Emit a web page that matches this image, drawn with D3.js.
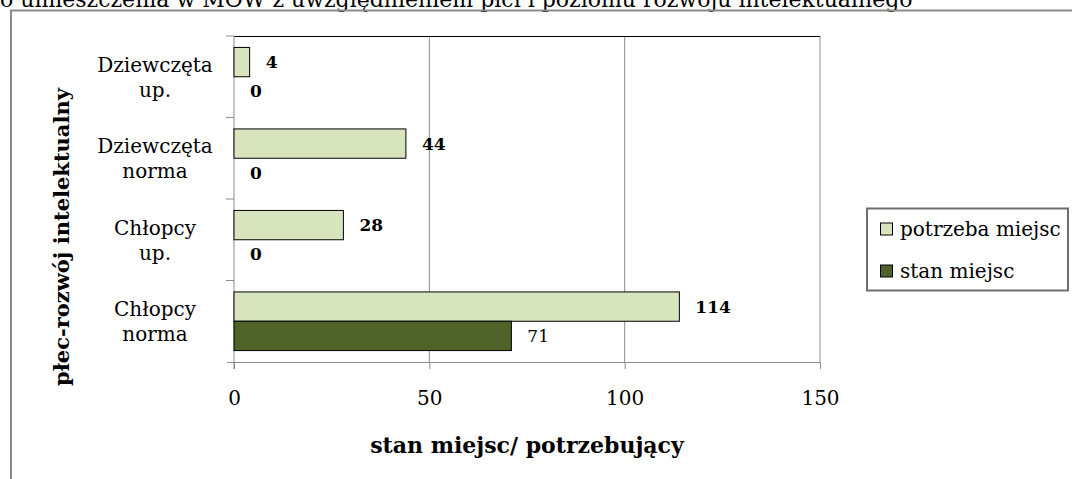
<!DOCTYPE html>
<html lang="pl">
<head>
<meta charset="UTF-8">
<title>stan miejsc / potrzebujący</title>
<script src="https://d3js.org/d3.v7.min.js"></script>
<style>
  body { margin: 0; background: #fff; }
  svg { display: block; font-family: "DejaVu Serif", serif; }
</style>
</head>
<body>
<div id="chart"></div>
<script>
  // data
  const categories = ["Dziewczęta up.", "Dziewczęta norma", "Chłopcy up.", "Chłopcy norma"];
  const categoryLines = [["Dziewczęta", "up."], ["Dziewczęta", "norma"], ["Chłopcy", "up."], ["Chłopcy", "norma"]];
  const seriesNames = ["potrzeba miejsc", "stan miejsc"];
  const potrzeba = [4, 44, 28, 114];
  const stan = [0, 0, 0, 71];
  const xTicks = [0, 50, 100, 150];
  const colors = ["#d7e4bd", "#4f6228"];

  const width = 1072, height = 479;
  const svg = d3.select("#chart").append("svg")
      .attr("width", width)
      .attr("height", height);

  // caption, cut at the top of the page
  svg.append("text")
      .attr("x", 0)
      .attr("y", 7)
      .style("font-size", "22px")
      .text("o umieszczenia w MOW z uwzględnieniem płci i poziomu rozwoju intelektualnego");

  // outer chart border
  svg.append("path")
      .attr("d", `M11,${height} V10.5 H${width}`)
      .attr("fill", "none")
      .attr("stroke", "#8c8c8c")
      .attr("stroke-width", 2);

  const plotL = 234, plotR = 820, plotT = 36, plotB = 362;

  const x = d3.scaleLinear().domain([0, 150]).range([plotL, plotR]);
  const y = d3.scaleBand().domain(categories).range([plotT, plotB]);
  const inner = d3.scaleBand().domain(seriesNames).range([0, y.bandwidth()]).paddingOuter(0.39);

  // gridlines
  svg.append("g")
      .selectAll("line")
      .data(xTicks.slice(1))
      .join("line")
      .attr("x1", d => x(d)).attr("x2", d => x(d))
      .attr("y1", plotT).attr("y2", plotB)
      .attr("stroke", "#8c8c8c");

  // top border of the plot area
  svg.append("line")
      .attr("x1", plotL).attr("x2", plotR)
      .attr("y1", plotT + 0.5).attr("y2", plotT + 0.5)
      .attr("stroke", "#000");

  // x axis
  const xAxis = svg.append("g")
      .attr("transform", `translate(0,${plotB})`)
      .call(d3.axisBottom(x).tickValues(xTicks).tickSize(7).tickPadding(22).tickFormat(d3.format("d")));
  xAxis.select(".domain").attr("stroke", "#8c8c8c").attr("d", `M${plotL - 7},0.5H${plotR}`);
  xAxis.selectAll(".tick line").attr("stroke", "#8c8c8c");
  xAxis.selectAll(".tick text")
      .attr("fill", "#000")
      .style("font-size", "20px")
      .style("font-family", "'DejaVu Serif', serif");

  // y axis line and category ticks
  svg.append("line")
      .attr("x1", plotL).attr("x2", plotL)
      .attr("y1", plotT).attr("y2", plotB + 7)
      .attr("stroke", "#8c8c8c");
  svg.append("g")
      .selectAll("line")
      .data(categories)
      .join("line")
      .attr("x1", plotL - 8).attr("x2", plotL)
      .attr("y1", d => y(d)).attr("y2", d => y(d))
      .attr("stroke", "#8c8c8c");

  // category labels, two lines each
  svg.append("g")
      .selectAll("text")
      .data(categories)
      .join("text")
      .attr("text-anchor", "middle")
      .style("font-size", "20px")
      .each(function(d, i) {
        const t = d3.select(this);
        const mid = y(d) + y.bandwidth() / 2;
        categoryLines[i].forEach((line, j) => {
          t.append("tspan")
              .attr("x", 155)
              .attr("y", mid + (j === 0 ? -5 : 20))
              .text(line);
        });
      });

  // bars
  const rows = categories.map((c, i) => ({ cat: c, values: [potrzeba[i], stan[i]] }));
  const groups = svg.append("g")
      .selectAll("g")
      .data(rows)
      .join("g")
      .attr("transform", d => `translate(0,${y(d.cat)})`);

  groups.selectAll("rect")
      .data(d => d.values.map((v, k) => ({ key: seriesNames[k], value: v, k })))
      .join("rect")
      .filter(d => d.value > 0)
      .attr("x", x(0))
      .attr("y", d => inner(d.key))
      .attr("width", d => x(d.value) - x(0))
      .attr("height", inner.bandwidth())
      .attr("fill", d => colors[d.k])
      .attr("stroke", "#000")
      .attr("stroke-width", 1);

  groups.selectAll("text")
      .data(d => d.values.map((v, k) => ({ key: seriesNames[k], value: v, k })))
      .join("text")
      .attr("x", d => x(d.value) + 16)
      .attr("y", d => inner(d.key) + inner.bandwidth() / 2)
      .attr("dy", "0.35em")
      .style("font-size", "17px")
      .style("font-weight", d => d.k === 1 && d.value > 0 ? "normal" : "bold")
      .text(d => d.value);

  // axis titles
  svg.append("text")
      .attr("x", 527)
      .attr("y", 453)
      .attr("text-anchor", "middle")
      .style("font-size", "22px")
      .style("font-weight", "bold")
      .text("stan miejsc/ potrzebujący");

  svg.append("text")
      .attr("transform", "translate(69,237) rotate(-90)")
      .attr("text-anchor", "middle")
      .style("font-size", "21px")
      .style("font-weight", "bold")
      .text("płec-rozwój intelektualny");

  // legend
  const legend = svg.append("g");
  legend.append("rect")
      .attr("x", 867).attr("y", 208.5)
      .attr("width", 201).attr("height", 82)
      .attr("fill", "#fff")
      .attr("stroke", "#6e6e6e")
      .attr("stroke-width", 2);
  const items = legend.selectAll("g")
      .data(seriesNames)
      .join("g")
      .attr("transform", (d, i) => `translate(880,${229 + i * 42})`);
  items.append("rect")
      .attr("x", 0.5).attr("y", -6)
      .attr("width", 12).attr("height", 12)
      .attr("fill", (d, i) => colors[i])
      .attr("stroke", "#000");
  items.append("text")
      .attr("x", 20)
      .attr("dy", "0.35em")
      .style("font-size", "20px")
      .text(d => d);
</script>
</body>
</html>
